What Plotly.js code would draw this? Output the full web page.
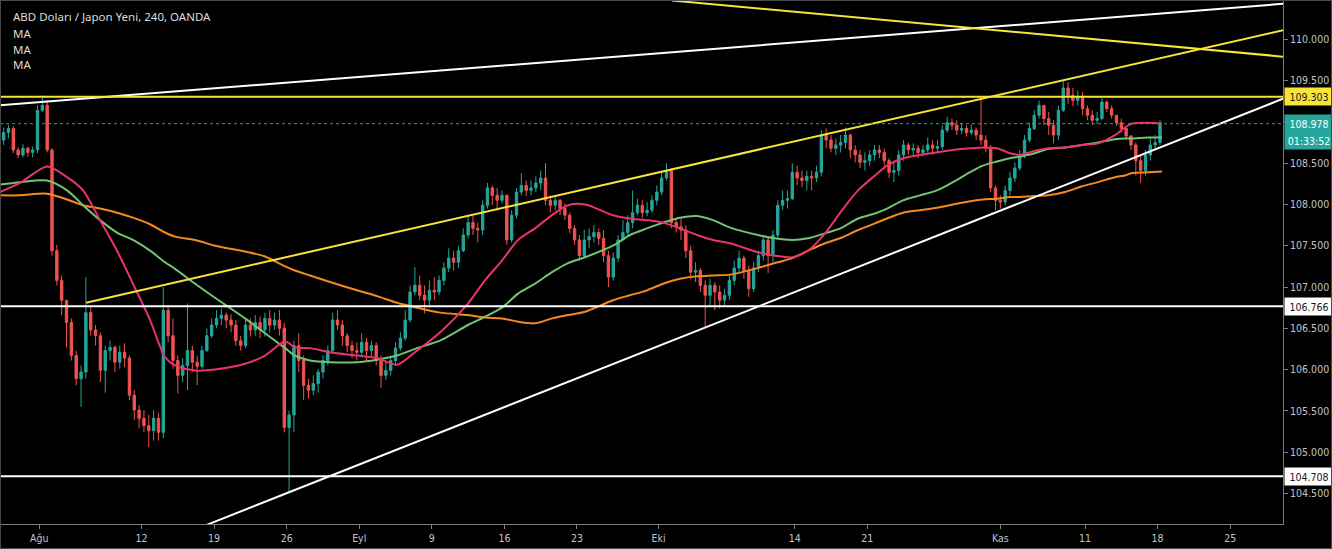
<!DOCTYPE html>
<html>
<head>
<meta charset="utf-8">
<script src="https://cdn.plot.ly/plotly-3.0.1.min.js"></script>
<style>
  html, body { margin:0; padding:0; background:#000; }
  #wrap { position:relative; width:1332px; height:549px; }
  #chart { width:1332px; height:549px; }
  #frame { position:absolute; left:0; top:0; width:1332px; height:549px; box-sizing:border-box;
           border:1px solid #4a4a4a; pointer-events:none; }
</style>
</head>
<body>
<div id="wrap"><div id="chart"></div><div id="frame"></div></div>
<script>
// ---- x axis: trading days counted from Mon 29 Jul 2019 (weekends skipped) ----
const tickDays   = [2.95, 10, 15, 20, 25, 30, 35, 40, 45.62, 55, 60, 69.17, 75, 80, 85];
const tickLabels = ['Ağu','12','19','26','Eyl','9','16','23','Eki','14','21','Kas','11','18','25'];
const priceTicks = [104.5,105,105.5,106,106.5,107,107.5,108,108.5,109,109.5,110];

// ---- candles (8-hour slots, 3 per trading day) ----
const firstSlotDay = 0.5;
const slotsPerDay = 3;
const firstOpen = 108.78;
const candleClose = [
108.87,108.92,108.66,108.60,108.68,108.63,108.66,109.14,109.20,108.66,
107.44,107.08,106.84,106.57,106.17,105.89,105.97,106.69,106.48,106.41,
105.99,106.23,106.27,106.09,106.21,106.14,105.69,105.51,105.41,105.32,
105.26,105.41,105.24,106.72,106.41,106.11,105.93,106.05,106.23,106.09,
106.04,106.23,106.41,106.54,106.62,106.66,106.60,106.54,106.35,106.29,
106.54,106.48,106.57,106.48,106.62,106.54,106.60,106.50,105.30,105.45,
106.29,106.11,105.81,105.75,105.83,105.97,106.11,106.23,106.60,106.54,
106.41,106.29,106.23,106.21,106.33,106.23,106.29,106.11,105.93,105.99,
106.11,106.26,106.38,106.60,106.94,107.02,106.90,106.84,106.96,106.94,
107.08,107.23,107.35,107.30,107.44,107.63,107.78,107.71,107.69,107.99,
108.20,108.11,108.05,108.11,107.57,107.87,108.15,108.23,108.17,108.20,
108.26,108.32,108.05,107.99,108.05,107.95,107.87,107.71,107.57,107.38,
107.57,107.61,107.66,107.59,107.38,107.12,107.35,107.57,107.66,107.78,
107.90,107.99,107.90,107.93,108.05,108.15,108.32,108.41,107.78,107.73,
107.69,107.44,107.18,107.20,107.02,106.90,107.02,106.94,106.84,106.90,
107.08,107.23,107.35,107.20,106.98,107.23,107.38,107.57,107.38,107.63,
107.99,108.05,108.07,108.39,108.32,108.29,108.34,108.32,108.39,108.84,
108.78,108.68,108.72,108.75,108.84,108.66,108.60,108.51,108.53,108.60,
108.66,108.63,108.53,108.39,108.41,108.60,108.72,108.66,108.68,108.63,
108.66,108.72,108.68,108.70,108.90,108.99,108.96,108.90,108.92,108.87,
108.90,108.84,108.78,108.68,108.20,108.05,108.03,108.17,108.32,108.44,
108.60,108.78,108.92,109.08,109.20,109.04,108.96,108.84,109.14,109.41,
109.32,109.26,109.31,109.16,109.08,109.02,109.04,109.24,109.16,109.08,
108.99,108.92,108.83,108.72,108.53,108.41,108.60,108.72,108.75,108.98];
const candleHigh = [
108.93,108.96,108.95,108.69,108.73,108.70,108.70,109.20,109.32,109.26,
108.68,107.51,107.14,106.84,106.62,106.23,106.05,107.12,106.78,106.54,
106.45,106.29,106.35,106.29,106.29,106.32,106.17,105.75,105.57,105.51,
105.45,105.51,105.48,107.00,106.78,106.62,106.17,106.14,106.80,106.29,
106.17,106.29,106.50,106.62,106.72,106.74,106.69,106.67,106.60,106.41,
106.60,106.62,106.66,106.64,106.69,106.72,106.69,106.72,106.57,105.50,
106.35,106.44,106.17,105.89,105.93,106.01,106.17,106.29,106.69,106.72,
106.60,106.44,106.35,106.33,106.44,106.38,106.35,106.33,106.17,106.09,
106.17,106.33,106.45,106.72,107.02,107.24,107.14,107.02,107.08,107.12,
107.14,107.30,107.47,107.44,107.50,107.71,107.87,107.87,107.78,108.05,
108.26,108.23,108.20,108.17,108.12,107.93,108.20,108.38,108.29,108.29,
108.34,108.41,108.50,108.11,108.11,108.07,108.01,107.90,107.75,107.63,
107.69,107.71,107.75,107.71,107.69,107.44,107.42,107.63,107.81,107.87,
108.17,108.07,108.05,108.03,108.11,108.23,108.39,108.50,108.44,107.83,
107.83,107.75,107.50,107.30,107.23,107.08,107.10,107.06,107.02,106.98,
107.14,107.32,107.44,107.38,107.26,107.30,107.44,107.63,107.61,107.69,
108.05,108.17,108.17,108.50,108.47,108.41,108.41,108.41,108.47,108.90,
108.92,108.84,108.80,108.84,108.93,108.86,108.72,108.66,108.63,108.66,
108.72,108.72,108.68,108.56,108.51,108.66,108.78,108.75,108.74,108.72,
108.72,108.81,108.78,108.78,108.96,109.06,109.04,109.02,108.99,108.96,
108.97,108.93,109.30,108.84,108.72,108.23,108.11,108.23,108.39,108.51,
108.66,108.84,108.99,109.14,109.26,109.20,109.12,109.02,109.20,109.50,
109.48,109.41,109.38,109.36,109.20,109.14,109.12,109.29,109.26,109.20,
109.08,109.04,108.92,108.84,108.75,108.60,108.66,108.80,108.84,109.02];
const candleLow = [
108.72,108.80,108.62,108.56,108.57,108.58,108.57,108.62,109.12,108.63,
107.38,107.02,106.66,106.27,106.11,105.81,105.55,105.89,106.41,106.29,
105.85,105.72,106.11,105.97,106.01,106.03,105.63,105.39,105.29,105.24,
105.06,105.14,105.14,105.17,106.33,106.01,105.71,105.85,105.75,105.97,
105.81,106.01,106.21,106.38,106.50,106.54,106.50,106.45,106.29,106.23,
106.26,106.40,106.41,106.38,106.40,106.45,106.48,106.41,105.24,104.51,
105.24,105.97,105.63,105.65,105.69,105.72,105.89,106.05,106.21,106.48,
106.29,106.21,106.14,106.11,106.16,106.11,106.14,106.05,105.78,105.87,
105.93,106.05,106.23,106.35,106.57,106.90,106.84,106.68,106.78,106.84,
106.90,107.02,107.18,107.20,107.23,107.42,107.59,107.63,107.54,107.63,
107.95,107.99,107.93,108.01,107.51,107.54,107.83,108.11,108.10,108.11,
108.15,108.17,107.99,107.90,107.93,107.87,107.81,107.65,107.51,107.32,
107.35,107.47,107.54,107.51,107.30,107.00,107.08,107.30,107.57,107.63,
107.71,107.87,107.83,107.86,107.90,107.99,108.11,108.29,107.71,107.66,
107.57,107.35,107.10,107.06,106.94,106.51,106.78,106.72,106.74,106.78,
106.84,107.02,107.18,107.10,106.88,106.94,107.18,107.32,107.17,107.30,
107.57,107.93,107.95,108.05,108.23,108.21,108.17,108.17,108.27,108.34,
108.68,108.63,108.60,108.63,108.68,108.56,108.51,108.44,108.41,108.47,
108.53,108.56,108.47,108.32,108.27,108.35,108.53,108.60,108.60,108.56,
108.58,108.63,108.60,108.63,108.66,108.87,108.90,108.84,108.85,108.82,
108.84,108.78,108.72,108.63,108.15,107.93,107.95,107.99,108.11,108.27,
108.41,108.56,108.75,108.90,109.04,108.96,108.84,108.74,108.78,109.12,
109.22,109.19,109.20,109.08,109.02,108.96,108.97,109.02,109.12,109.04,
108.95,108.87,108.78,108.66,108.35,108.26,108.35,108.53,108.66,108.72];

// ---- moving averages ----
const maDays = [0.25,1.63,3.49,4.87,5.97,7.14,8.31,9.41,10.59,11.62,12.31,13.69,15.06,17.13,18.51,19.89,20.57,21.61,22.99,24.85,
26.22,27.60,28.98,30.56,32.49,33.66,34.83,35.94,37.11,38.28,39.38,40.55,42.48,43.65,44.82,45.93,47.10,48.27,49.37,50.54,
52.47,53.64,54.81,55.92,57.09,58.26,59.36,60.53,61.36,62.46,63.63,64.80,65.90,67.08,67.97,68.93,69.83,70.52,71.35,72.45,
73.62,74.79,75.89,77.06,77.75,78.24,79.34,80.30];
const maFast = [108.15,108.26,108.46,108.33,108.17,107.81,107.44,107.04,106.60,106.15,106.05,105.99,106.00,106.07,106.17,106.34,106.27,106.26,106.21,106.17,
106.14,106.06,106.23,106.45,106.80,107.08,107.32,107.57,107.71,107.87,107.99,108.00,107.87,107.83,107.81,107.78,107.71,107.63,107.57,107.53,
107.42,107.38,107.36,107.44,107.65,107.93,108.17,108.35,108.47,108.56,108.60,108.63,108.66,108.68,108.69,108.68,108.62,108.60,108.64,108.68,
108.69,108.72,108.74,108.84,108.93,108.98,108.99,108.98];
const maMid = [108.24,108.27,108.29,108.17,107.99,107.81,107.66,107.57,107.44,107.30,107.22,107.04,106.87,106.62,106.44,106.26,106.17,106.11,106.09,106.09,
106.12,106.17,106.26,106.35,106.54,106.64,106.75,106.92,107.04,107.18,107.29,107.36,107.50,107.63,107.71,107.78,107.84,107.86,107.81,107.72,
107.63,107.59,107.57,107.59,107.65,107.72,107.83,107.89,107.95,108.05,108.11,108.17,108.27,108.39,108.47,108.52,108.56,108.58,108.61,108.67,
108.69,108.72,108.75,108.79,108.80,108.80,108.81,108.81];
const maSlow = [108.11,108.11,108.13,108.06,107.99,107.95,107.90,107.84,107.76,107.66,107.61,107.57,107.50,107.43,107.37,107.25,107.20,107.14,107.06,106.96,
106.89,106.81,106.75,106.69,106.66,106.63,106.62,106.58,106.56,106.62,106.66,106.70,106.84,106.90,106.96,107.04,107.10,107.13,107.14,107.15,
107.23,107.29,107.35,107.44,107.53,107.60,107.69,107.77,107.83,107.90,107.93,107.96,108.00,108.04,108.06,108.07,108.09,108.09,108.10,108.11,
108.15,108.22,108.27,108.33,108.35,108.38,108.39,108.40];

// ---- drawings ----
const whiteUpperDays = [0.25, 88.64],  whiteUpperPrices = [109.20, 110.43];
const whiteSupportDays = [14.5, 88.64], whiteSupportPrices = [104.12, 109.28];
const yellowChannelDays = [6.18, 88.64], yellowChannelPrices = [106.81, 110.11];
const yellowFallingDays = [46.55, 88.64], yellowFallingPrices = [110.47, 109.79];
const whiteLevels = [106.766, 104.708];
const yellowLevel = 109.303;
const lastPrice = 108.978;
const countdown = '01:33:52';
const titleText = 'ABD Doları / Japon Yeni, 240, OANDA';
const maNames = ['MA','MA','MA'];

// ---- build ----
const candleDay = candleClose.map((_, k) => firstSlotDay + k / slotsPerDay);
const candleOpen = [firstOpen].concat(candleClose.slice(0, -1)); // each slot opens at previous close

const UP = '#26a69a', DOWN = '#ef5350';
const traces = [
  { type:'candlestick', x:candleDay, open:candleOpen, high:candleHigh, low:candleLow, close:candleClose,
    increasing:{line:{color:UP, width:1}, fillcolor:UP},
    decreasing:{line:{color:DOWN, width:1}, fillcolor:DOWN},
    whiskerwidth:0, hoverinfo:'skip', showlegend:false },
  { type:'scatter', mode:'lines', x:maDays, y:maSlow, line:{color:'#f5891f', width:2, shape:'spline', smoothing:0.8}, hoverinfo:'skip', showlegend:false },
  { type:'scatter', mode:'lines', x:maDays, y:maMid,  line:{color:'#72c472', width:2, shape:'spline', smoothing:0.8}, hoverinfo:'skip', showlegend:false },
  { type:'scatter', mode:'lines', x:maDays, y:maFast, line:{color:'#e8336d', width:2, shape:'spline', smoothing:0.8}, hoverinfo:'skip', showlegend:false },
  { type:'scatter', mode:'lines', x:whiteUpperDays, y:whiteUpperPrices, line:{color:'#ffffff', width:2}, hoverinfo:'skip', showlegend:false },
  { type:'scatter', mode:'lines', x:whiteSupportDays, y:whiteSupportPrices, line:{color:'#ffffff', width:2}, hoverinfo:'skip', showlegend:false },
  { type:'scatter', mode:'lines', x:yellowChannelDays, y:yellowChannelPrices, line:{color:'#f7e43a', width:2}, hoverinfo:'skip', showlegend:false },
  { type:'scatter', mode:'lines', x:yellowFallingDays, y:yellowFallingPrices, line:{color:'#f7e43a', width:2}, hoverinfo:'skip', showlegend:false }
];

const shapes = [];
whiteLevels.forEach(v => shapes.push({type:'line', xref:'paper', x0:0, x1:1, yref:'y', y0:v, y1:v, line:{color:'#ffffff', width:2}}));
shapes.push({type:'line', xref:'paper', x0:0, x1:1, yref:'y', y0:yellowLevel, y1:yellowLevel, line:{color:'#f7e43a', width:2}});
shapes.push({type:'line', xref:'paper', x0:0, x1:1, yref:'y', y0:lastPrice, y1:lastPrice, line:{color:UP, width:1, dash:'dot'}});

const labelFont = 'DejaVu Sans Condensed, DejaVu Sans, sans-serif';
const annotations = [];
function priceBox(value, text, bg, fg, yshift) {
  annotations.push({xref:'paper', x:1, xanchor:'left', xshift:1, yref:'y', y:value, yanchor:'middle', yshift:yshift||0,
    text:text, showarrow:false, bgcolor:bg, width:46, height:15, borderpad:1, align:'center',
    font:{family:labelFont, size:10.5, color:fg}});
}
priceBox(yellowLevel, yellowLevel.toFixed(3), '#f7e43a', '#131722');
priceBox(lastPrice, lastPrice.toFixed(3), UP, '#ffffff');
priceBox(lastPrice, countdown, UP, '#ffffff', -17);
whiteLevels.forEach(v => priceBox(v, v.toFixed(3), '#ffffff', '#131722'));

const legendLines = [titleText].concat(maNames);
const legendShift = [-16, -33, -49, -64];
legendLines.forEach((t, i) => annotations.push({xref:'paper', x:0, xanchor:'left', xshift:11,
  yref:'paper', y:1, yanchor:'middle', yshift:legendShift[i], text:t, showarrow:false,
  font:{family:'Noto Sans, Open Sans, sans-serif', size:11.5, color:'#dcdcdc'}}));

const layout = {
  width:1332, height:549,
  margin:{l:0, r:49, t:0, b:25, pad:0},
  paper_bgcolor:'#000000', plot_bgcolor:'#000000',
  showlegend:false,
  xaxis:{range:[0.25, 88.64], tickmode:'array', tickvals:tickDays, ticktext:tickLabels,
    showgrid:false, zeroline:false, showline:true, linecolor:'#7a7a7a', linewidth:1,
    ticks:'outside', ticklen:4, tickcolor:'#7a7a7a',
    tickfont:{family:labelFont, size:10.5, color:'#c4c4c4'},
    rangeslider:{visible:false}, fixedrange:true},
  yaxis:{side:'right', range:[104.13, 110.476], tickmode:'array', tickvals:priceTicks,
    tickformat:'.3f', showgrid:false, zeroline:false, showline:true, linecolor:'#7a7a7a', linewidth:1,
    ticks:'outside', ticklen:4, tickcolor:'#7a7a7a',
    tickfont:{family:labelFont, size:10.5, color:'#c4c4c4'}, fixedrange:true},
  shapes:shapes,
  annotations:annotations
};

Plotly.newPlot('chart', traces, layout, {displayModeBar:false, staticPlot:true});
</script>
</body>
</html>
